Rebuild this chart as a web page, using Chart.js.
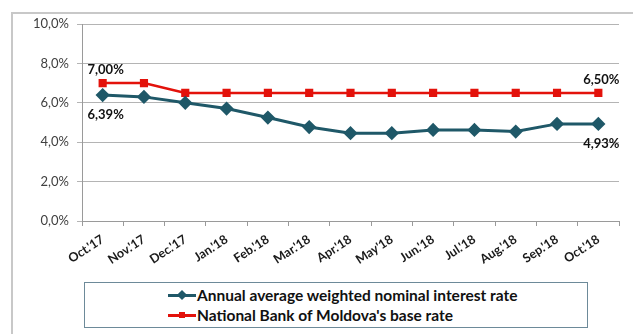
<!DOCTYPE html>
<html>
<head>
<meta charset="utf-8">
<script src="https://cdn.jsdelivr.net/npm/chart.js@4"></script>
<style>
  html, body { margin: 0; padding: 0; background: #fff; }
  #wrap { position: relative; width: 633px; height: 334px; overflow: hidden; }
  #frame { position: absolute; left: 11px; top: 12px; width: 700px; height: 400px; border: 2px solid #c8c8c8; box-sizing: border-box; }
  canvas { position: absolute; left: 0; top: 0; }
  #legend {
    position: absolute; left: 84px; top: 282px; width: 504px; height: 46px;
    border: 1px solid #6d8a99; box-sizing: border-box; background: #fff;
    font-family: Lato, "Open Sans", sans-serif; font-size: 15.5px; font-weight: bold; color: #111;
    padding: 2px 0 0 83px;
  }
  #legend .item { display: flex; align-items: center; height: 20px; }
  #legend .mk { position: relative; width: 28px; height: 10px; margin-right: 1px; }
  #legend .mk .ln { position: absolute; left: 0; right: 0; top: 4px; height: 3px; }
  #legend .mk .pt { position: absolute; left: 10px; top: 1px; width: 8px; height: 8px; }
</style>
</head>
<body>
<div id="wrap">
  <div id="frame"></div>
  <canvas id="rateChart" width="633" height="334"></canvas>
  <div id="legend"></div>
</div>
<script>
(function() {
    'use strict';

    const categories = ["Oct.'17", "Nov.'17", "Dec.'17", "Jan.'18", "Feb.'18", "Mar.'18", "Apr.'18",
        "May'18", "Jun.'18", "Jul.'18", "Aug.'18", "Sep.'18", "Oct.'18"];
    const avgRate = [6.39, 6.30, 6.00, 5.71, 5.25, 4.77, 4.46, 4.46, 4.62, 4.62, 4.54, 4.93, 4.93];
    const baseRate = [7.00, 7.00, 6.50, 6.50, 6.50, 6.50, 6.50, 6.50, 6.50, 6.50, 6.50, 6.50, 6.50];
    const seriesNames = ["Annual average weighted nominal interest rate", "National Bank of Moldova's base rate"];
    const yTicks = [0, 2, 4, 6, 8, 10];

    const blue = '#1f5868';
    const red = '#e3120b';

    function pct(v, digits) {
        return v.toFixed(digits).replace('.', ',') + '%';
    }

    // labels only on first and last point, like the original
    const endLabels = {
        id: 'endLabels',
        afterDatasetsDraw(chart) {
            const ctx = chart.ctx;
            ctx.save();
            ctx.font = 'bold 13px Lato, "Open Sans", sans-serif';
            ctx.fillStyle = '#111';
            ctx.textAlign = 'center';
            ctx.textBaseline = 'middle';
            chart.data.datasets.forEach(function(ds, i) {
                const meta = chart.getDatasetMeta(i);
                const dy = i === 0 ? 20 : -13;
                [0, ds.data.length - 1].forEach(function(j) {
                    const p = meta.data[j];
                    ctx.fillText(pct(ds.data[j], 2), p.x + 3, p.y + dy);
                });
            });
            ctx.restore();
        }
    };

    const ctx = document.getElementById('rateChart').getContext('2d');
    new Chart(ctx, {
        type: 'line',
        data: {
            labels: categories,
            datasets: [{
                label: seriesNames[0],
                data: avgRate,
                borderColor: blue,
                backgroundColor: blue,
                borderWidth: 3,
                pointStyle: 'rectRot',
                pointRadius: 5,
                pointBackgroundColor: blue,
                pointBorderColor: blue,
                tension: 0
            }, {
                label: seriesNames[1],
                data: baseRate,
                borderColor: red,
                backgroundColor: red,
                borderWidth: 2.5,
                pointStyle: 'rect',
                pointRadius: 4,
                pointBackgroundColor: red,
                pointBorderColor: red,
                tension: 0
            }]
        },
        options: {
            responsive: false,
            animation: false,
            layout: { padding: { left: 12, top: 24, right: 14, bottom: 0 } },
            plugins: {
                legend: { display: false },
                tooltip: { enabled: false }
            },
            scales: {
                x: {
                    offset: true,
                    afterFit: function(s) { s.height = 113; },
                    border: { color: '#9a9a9a', width: 1 },
                    grid: { offset: true, drawOnChartArea: false, drawTicks: true, tickLength: 5, color: '#9a9a9a' },
                    ticks: {
                        minRotation: 33, maxRotation: 33, autoSkip: false,
                        color: '#1a1a1a', padding: 6,
                        font: { family: 'Lato, "Open Sans", sans-serif', size: 12.5, weight: 'bold' }
                    }
                },
                y: {
                    min: 0, max: 10,
                    afterFit: function(s) { s.width = 70; },
                    afterBuildTicks: function(s) { s.ticks = yTicks.map(function(v) { return { value: v }; }); },
                    border: { color: '#9a9a9a', width: 1 },
                    grid: { color: '#b4b4b4', lineWidth: 1, tickLength: 5 },
                    ticks: {
                        color: '#404040', padding: 8,
                        font: { family: 'Lato, "Open Sans", sans-serif', size: 13 },
                        callback: function(v) { return pct(v, 1); }
                    }
                }
            }
        },
        plugins: [endLabels]
    });

    // html legend built from the series
    const legend = document.getElementById('legend');
    [[seriesNames[0], blue, 'diamond'], [seriesNames[1], red, 'square']].forEach(function(it) {
        const row = document.createElement('div');
        row.className = 'item';
        const mk = document.createElement('div');
        mk.className = 'mk';
        const ln = document.createElement('div');
        ln.className = 'ln';
        ln.style.background = it[1];
        const pt = document.createElement('div');
        pt.className = 'pt';
        pt.style.background = it[1];
        if (it[2] === 'diamond') pt.style.transform = 'rotate(45deg) scale(0.9)';
        else pt.style.transform = 'scale(0.75)';
        mk.appendChild(ln);
        mk.appendChild(pt);
        const tx = document.createElement('span');
        tx.textContent = it[0];
        row.appendChild(mk);
        row.appendChild(tx);
        legend.appendChild(row);
    });
})();
</script>
</body>
</html>
